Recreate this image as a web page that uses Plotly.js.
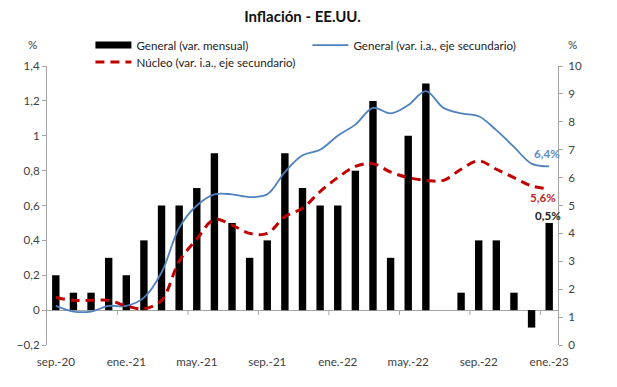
<!DOCTYPE html>
<html>
<head>
<meta charset="utf-8">
<script src="https://cdn.plot.ly/plotly-3.0.1.min.js"></script>
<style>html,body{margin:0;padding:0;background:#fff;}#chart{width:617px;height:387px;}</style>
</head>
<body>
<div id="chart"></div>
<script>
const months = ['sep.-20','oct.-20','nov.-20','dic.-20','ene.-21','feb.-21','mar.-21','abr.-21','may.-21','jun.-21','jul.-21','ago.-21','sep.-21','oct.-21','nov.-21','dic.-21','ene.-22','feb.-22','mar.-22','abr.-22','may.-22','jun.-22','jul.-22','ago.-22','sep.-22','oct.-22','nov.-22','dic.-22','ene.-23'];
const generalMensual = [0.2,0.1,0.1,0.3,0.2,0.4,0.6,0.6,0.7,0.9,0.5,0.3,0.4,0.9,0.7,0.6,0.6,0.8,1.2,0.3,1.0,1.3,0.0,0.1,0.4,0.4,0.1,-0.1,0.5];
const generalIA = [1.4,1.2,1.2,1.4,1.4,1.7,2.6,4.2,5.0,5.4,5.4,5.3,5.4,6.2,6.8,7.0,7.5,7.9,8.5,8.3,8.6,9.1,8.5,8.3,8.2,7.7,7.1,6.5,6.4];
const nucleoIA = [1.7,1.6,1.6,1.6,1.4,1.3,1.6,3.0,3.8,4.5,4.3,4.0,4.0,4.6,4.9,5.5,6.0,6.4,6.5,6.2,6.0,5.9,5.9,6.3,6.6,6.3,6.0,5.7,5.6];
const tickLabels = ['sep.-20','ene.-21','may.-21','sep.-21','ene.-22','may.-22','sep.-22','ene.-23'];
const seriesNames = ['General (var. mensual)','General (var. i.a., eje secundario)','Núcleo (var. i.a., eje secundario)'];

const xIdx = months.map((m, i) => i);
const tickIdx = tickLabels.map(t => months.indexOf(t));
const last = months.length - 1;

const FONT = 'Lato, "Open Sans", sans-serif';
const AXC = '#A6A6A6';
const TXT = '#404040';
const FS = 11.6;

const traces = [
  {type:'bar', x:xIdx, y:generalMensual, name:seriesNames[0], marker:{color:'#000000'}, width:0.42, yaxis:'y', showlegend:false},
  // legend-only entry so the bar series gets a wide Excel-like swatch
  {type:'scatter', mode:'lines', x:[null], y:[null], name:seriesNames[0], line:{color:'#000000', width:7}, yaxis:'y', legend:'legend', hoverinfo:'skip'},
  {type:'scatter', mode:'lines', x:xIdx, y:generalIA, name:seriesNames[1], yaxis:'y2', line:{color:'#4F81BD', width:1.8, shape:'spline', smoothing:1}, legend:'legend'},
  {type:'scatter', mode:'lines', x:xIdx, y:nucleoIA, name:seriesNames[2], yaxis:'y2', line:{color:'#C00000', width:3, dash:'9px,6px', shape:'spline', smoothing:1}, legend:'legend2'}
];

const shapes = tickIdx.slice(1).map(i => ({type:'line', xref:'x', yref:'y', x0:i-0.5, x1:i-0.5, y0:0, y1:-0.028, line:{color:AXC, width:1}}));

const annotations = [
  {xref:'paper', yref:'paper', x:0, y:1, xanchor:'center', yanchor:'middle', xshift:-15, yshift:22, text:'%', showarrow:false, font:{family:FONT, size:FS, color:TXT}},
  {xref:'paper', yref:'paper', x:1, y:1, xanchor:'center', yanchor:'middle', xshift:14, yshift:22, text:'%', showarrow:false, font:{family:FONT, size:FS, color:TXT}},
  {xref:'x', yref:'y2', x:last, y:generalIA[last], yshift:13, xshift:-2, text:'<b>6,4%</b>', showarrow:false, font:{family:FONT, size:FS, color:'#5B8BC9'}},
  {xref:'x', yref:'y2', x:last, y:nucleoIA[last], yshift:-9, xshift:-6, text:'<b>5,6%</b>', showarrow:false, font:{family:FONT, size:FS, color:'#C0262C'}},
  {xref:'x', yref:'y', x:last, y:generalMensual[last], yshift:7, xshift:-1, text:'<b>0,5%</b>', showarrow:false, font:{family:FONT, size:FS, color:'#222'}}
];

const layout = {
  width:617, height:387,
  margin:{l:47, r:59, t:66, b:42},
  paper_bgcolor:'#fff', plot_bgcolor:'#fff',
  separators:',.',
  font:{family:FONT, size:FS, color:TXT},
  showlegend:true,
  title:{text:'<b>Inflación - EE.UU.</b>', x:0.5, xref:'paper', xanchor:'center', y:0.956, yanchor:'middle', font:{family:FONT, size:15, color:'#111'}},
  xaxis:{range:[-0.5, last+0.5], tickvals:tickIdx, ticktext:tickLabels, ticks:'', showline:false, showgrid:false, zeroline:false, ticklabelstandoff:8, tickfont:{size:FS, color:TXT}},
  yaxis:{range:[-0.2,1.4], dtick:0.2, tick0:0, ticks:'outside', ticklen:4, tickcolor:AXC, showline:true, linecolor:AXC, showgrid:false, zeroline:true, zerolinecolor:AXC, zerolinewidth:1, tickfont:{size:FS, color:TXT}},
  yaxis2:{range:[0,10], dtick:1, overlaying:'y', side:'right', ticks:'outside', ticklen:4, tickcolor:AXC, showline:true, linecolor:AXC, showgrid:false, zeroline:false, ticklabelstandoff:3, tickfont:{size:FS, color:TXT}},
  legend:{orientation:'h', x:0.085, xanchor:'left', y:1.075, yanchor:'middle', entrywidth:166, bgcolor:'rgba(0,0,0,0)', font:{family:FONT, size:FS, color:'#222'}, itemwidth:36, tracegroupgap:0},
  legend2:{orientation:'h', x:0.085, xanchor:'left', y:1.014, yanchor:'middle', bgcolor:'rgba(0,0,0,0)', font:{family:FONT, size:FS, color:'#222'}, itemwidth:36},
  bargap:0.5,
  shapes:shapes,
  annotations:annotations
};

Plotly.newPlot('chart', traces, layout, {displayModeBar:false, staticPlot:true});
</script>
</body>
</html>
